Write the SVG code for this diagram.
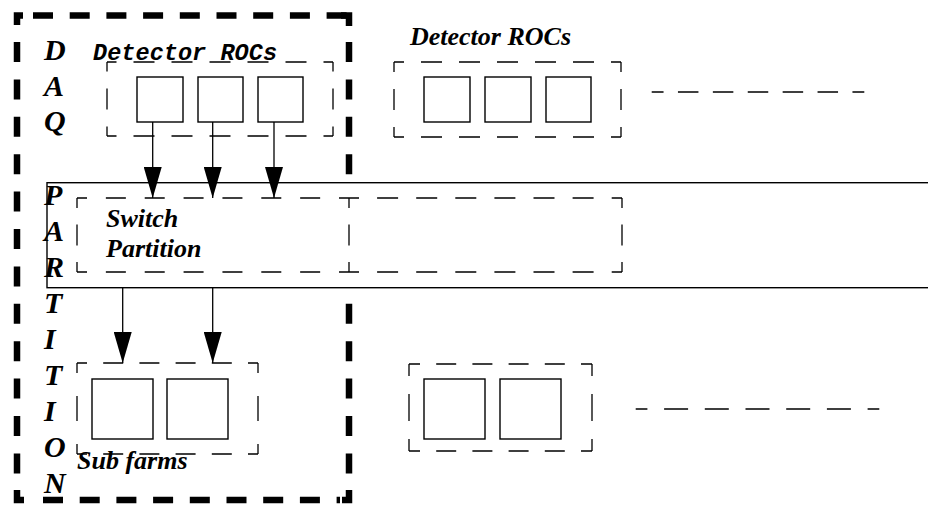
<svg xmlns="http://www.w3.org/2000/svg" width="928" height="505" viewBox="0 0 928 505">
<style>
.thick{fill:none;stroke:#000;stroke-width:6.5;stroke-linejoin:miter}
.thin{fill:none;stroke:#000;stroke-width:1.3}
.box{fill:#fff;stroke:#000;stroke-width:1.4}
.band{fill:#fff;stroke:#000;stroke-width:1.4}
.conn{fill:none;stroke:#000;stroke-width:1.3}
.lbl{font-family:"Liberation Serif","Times New Roman",serif;font-weight:bold;font-style:italic;fill:#000}
.big{font-size:30px}
.med{font-size:26px}
.mono{font-family:"Liberation Mono","Courier New",monospace;font-weight:bold;font-style:italic;font-size:23.5px;fill:#000}
</style>
<defs>
<marker id="ah" markerUnits="userSpaceOnUse" markerWidth="31" markerHeight="18" viewBox="0 0 31 18" refX="31" refY="9" orient="auto">
<path d="M0,0 L31,9 L0,18 z" fill="#000"/>
</marker>
</defs>
<rect width="928" height="505" fill="#fff"/>

<g id="daq-partition">
<line class="thick" x1="33" y1="15.5" x2="346.6" y2="15.5" stroke-dasharray="20 16.7"/>
<line class="thick" x1="43" y1="500" x2="340" y2="500" stroke-dasharray="20 16.7"/>
<line class="thick" x1="17" y1="42" x2="17" y2="490" stroke-dasharray="20 17.4"/>
<line class="thick" x1="349" y1="42" x2="349" y2="490" stroke-dasharray="20 17.4"/>
<path class="thick" d="M17,25 V15.5 H23"/>
<path class="thick" d="M341,15.5 H349 V26"/>
<path class="thick" d="M17,490 V500 H24"/>
<path class="thick" d="M342,500 H349 V490"/>
</g>

<g id="switch-band">
<rect class="band" x="47" y="182.7" width="900" height="105"/>
</g>

<g id="roc-left">
<line class="thin" x1="107" y1="62" x2="333" y2="62" stroke-dasharray="21 17" stroke-dashoffset="11.5"/>
<line class="thin" x1="107" y1="136" x2="333" y2="136" stroke-dasharray="21 17" stroke-dashoffset="11.5"/>
<line class="thin" x1="107" y1="62" x2="107" y2="136" stroke-dasharray="21 17" stroke-dashoffset="11.5"/>
<line class="thin" x1="333" y1="62" x2="333" y2="136" stroke-dasharray="21 17" stroke-dashoffset="11.5"/>
<rect class="box" x="137" y="77" width="46" height="45"/>
<rect class="box" x="198" y="77" width="45" height="45"/>
<rect class="box" x="258" y="77" width="45" height="45"/>
<text class="mono" x="93" y="60" textLength="184" lengthAdjust="spacing">Detector ROCs</text>
</g>

<g id="roc-right">
<line class="thin" x1="394" y1="62" x2="621" y2="62" stroke-dasharray="21 17" stroke-dashoffset="11"/>
<line class="thin" x1="394" y1="137" x2="621" y2="137" stroke-dasharray="21 17" stroke-dashoffset="11"/>
<line class="thin" x1="394" y1="62" x2="394" y2="137" stroke-dasharray="21 17" stroke-dashoffset="11"/>
<line class="thin" x1="621" y1="62" x2="621" y2="137" stroke-dasharray="21 17" stroke-dashoffset="11"/>
<rect class="box" x="424" y="77" width="46" height="45"/>
<rect class="box" x="485" y="77" width="46" height="45"/>
<rect class="box" x="546" y="77" width="45" height="45"/>
<text class="lbl med" x="410" y="45">Detector ROCs</text>
</g>

<g id="ellipsis-top">
<line class="thin" x1="651.7" y1="92" x2="864.3" y2="92" stroke-dasharray="20.5 14.4" stroke-dashoffset="8.65"/>
</g>

<g id="switch-partition">
<line class="thin" x1="77" y1="198" x2="349" y2="198" stroke-dasharray="20 18.86" stroke-dashoffset="10"/>
<line class="thin" x1="77" y1="272" x2="349" y2="272" stroke-dasharray="20 18.86" stroke-dashoffset="10"/>
<line class="thin" x1="349" y1="198" x2="622" y2="198" stroke-dasharray="21 18.1" stroke-dashoffset="11"/>
<line class="thin" x1="349" y1="272" x2="622" y2="272" stroke-dasharray="21 18.1" stroke-dashoffset="11"/>
<line class="thin" x1="77" y1="198" x2="77" y2="272" stroke-dasharray="21 16.5" stroke-dashoffset="11"/>
<line class="thin" x1="349" y1="198" x2="349" y2="272" stroke-dasharray="21 16.5" stroke-dashoffset="11"/>
<line class="thin" x1="622" y1="198" x2="622" y2="272" stroke-dasharray="21 16.5" stroke-dashoffset="11"/>
<text class="lbl med" x="106" y="227">Switch</text>
<text class="lbl med" x="106" y="257">Partition</text>
</g>

<g id="subfarm-left">
<line class="thin" x1="77" y1="363" x2="258" y2="363" stroke-dasharray="20 16.2" stroke-dashoffset="10"/>
<line class="thin" x1="77" y1="454" x2="258" y2="454" stroke-dasharray="20 16.2" stroke-dashoffset="10"/>
<line class="thin" x1="77" y1="363" x2="77" y2="454" stroke-dasharray="10 23 25 23 10"/>
<line class="thin" x1="258" y1="363" x2="258" y2="454" stroke-dasharray="10 23 25 23 10"/>
<rect class="box" x="92" y="379" width="61" height="60"/>
<rect class="box" x="167" y="379" width="61" height="60"/>
<text class="lbl med" x="77" y="469">Sub farms</text>
</g>

<g id="subfarm-right">
<line class="thin" x1="409" y1="364" x2="592" y2="364" stroke-dasharray="20 16.2" stroke-dashoffset="9"/>
<line class="thin" x1="409" y1="451" x2="592" y2="451" stroke-dasharray="20 16.2" stroke-dashoffset="9"/>
<line class="thin" x1="409" y1="364" x2="409" y2="451" stroke-dasharray="12 18 27 18 12"/>
<line class="thin" x1="592" y1="364" x2="592" y2="451" stroke-dasharray="12 18 27 18 12"/>
<rect class="box" x="424" y="379" width="61" height="60"/>
<rect class="box" x="500" y="379" width="61" height="60"/>
</g>

<g id="ellipsis-bottom">
<line class="thin" x1="635.7" y1="409" x2="879.3" y2="409" stroke-dasharray="24 16.7" stroke-dashoffset="12.3"/>
</g>

<g id="connectors">
<line class="conn" x1="152.7" y1="122" x2="152.7" y2="198" marker-end="url(#ah)"/>
<line class="conn" x1="212.7" y1="122" x2="212.7" y2="198" marker-end="url(#ah)"/>
<line class="conn" x1="274" y1="122" x2="274" y2="198" marker-end="url(#ah)"/>
<line class="conn" x1="122.7" y1="288" x2="122.7" y2="363" marker-end="url(#ah)"/>
<line class="conn" x1="212.7" y1="288" x2="212.7" y2="363" marker-end="url(#ah)"/>
</g>

<g id="daq-partition-label">
<text class="lbl big" x="44" y="60">D</text>
<text class="lbl big" x="44" y="96">A</text>
<text class="lbl big" x="44" y="131">Q</text>
<text class="lbl big" x="44" y="205">P</text>
<text class="lbl big" x="44" y="241">A</text>
<text class="lbl big" x="44" y="277">R</text>
<text class="lbl big" x="44" y="313">T</text>
<text class="lbl big" x="44" y="349">I</text>
<text class="lbl big" x="44" y="385">T</text>
<text class="lbl big" x="44" y="421">I</text>
<text class="lbl big" x="44" y="457">O</text>
<text class="lbl big" x="44" y="493">N</text>
</g>
</svg>
